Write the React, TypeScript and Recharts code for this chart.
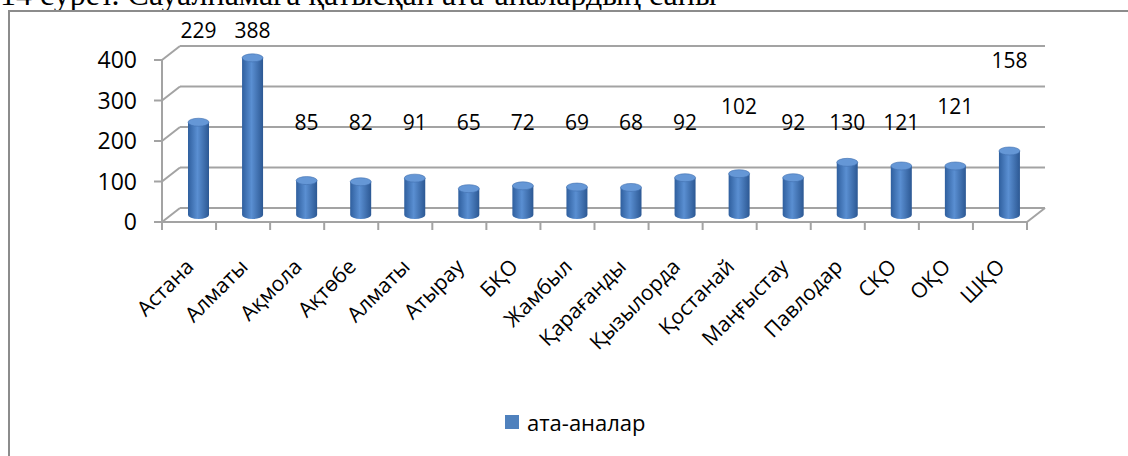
import { BarChart, Bar, XAxis, YAxis, CartesianGrid, LabelList } from 'recharts'

const regions = [
  'Астана', 'Алматы', 'Ақмола', 'Ақтөбе', 'Алматы', 'Атырау', 'БҚО', 'Жамбыл',
  'Қарағанды', 'Қызылорда', 'Қостанай', 'Маңғыстау', 'Павлодар', 'СҚО', 'ОҚО', 'ШҚО',
]
const parents = [229, 388, 85, 82, 91, 65, 72, 69, 68, 92, 102, 92, 130, 121, 121, 158]
const yTicks = [0, 100, 200, 300, 400]
const seriesName = 'ата-аналар'
const caption = '14 сурет. Сауалнамаға қатысқан ата-аналардың саны'

// where Excel dropped each data label, in axis units
const labelLevel = [474, 474, 247, 247, 247, 247, 247, 247, 247, 247, 286, 247, 247, 247, 286, 400]

const data = regions.map((name, i) => ({ name, value: parents[i] }))

const FONT = '"Open Sans", sans-serif'
const GRID = '#a3a3a3'
const DEPTH_X = 18, DEPTH_Y = -14      // back wall offset
const BAR_X = 9, BAR_Y = -7            // cylinders sit mid-depth

function WallLine(props: any) {
  const { x1, y1, x2, y2 } = props
  const floor = props.y != null && props.height != null && Math.abs(y1 - (props.y + props.height)) < 1
  return (
    <g>
      <line x1={x1} y1={y1} x2={x1 + DEPTH_X} y2={y1 + DEPTH_Y} stroke={GRID} strokeWidth={2} />
      <line x1={x1 + DEPTH_X} y1={y1 + DEPTH_Y} x2={x2 + DEPTH_X} y2={y2 + DEPTH_Y} stroke={GRID} strokeWidth={2} />
      {floor && <line x1={x2} y1={y2} x2={x2 + DEPTH_X} y2={y2 + DEPTH_Y} stroke={GRID} strokeWidth={2} />}
    </g>
  )
}

function Cylinder(props: any) {
  const { x, y, width, height } = props
  if (!height) return null
  const left = x + BAR_X
  const top = y + BAR_Y
  const bottom = y + height + BAR_Y
  const rx = width / 2
  const ry = 4
  return (
    <g>
      <path
        d={`M${left},${top} L${left},${bottom} A${rx},${ry} 0 0 0 ${left + width},${bottom} L${left + width},${top} Z`}
        fill="url(#cyl)"
      />
      <ellipse cx={left + rx} cy={top} rx={rx} ry={ry} fill="#6597d6" stroke="#3f6fae" strokeWidth={0.6} />
    </g>
  )
}

function ValueLabel(props: any) {
  const vb = props.viewBox || props
  const { x, y, width, height } = vb
  const { value, index } = props
  if (!value) return null
  const bottom = y + height
  const ly = bottom - labelLevel[index] * (height / value)
  return (
    <text x={x + width / 2 + BAR_X} y={ly} textAnchor="middle" dominantBaseline="central"
      fontFamily={FONT} fontSize={21} fill="#000">
      {value}
    </text>
  )
}

function RegionTick(props: any) {
  const { x, y, payload, index } = props
  const half = payload?.offset || 27
  return (
    <g>
      <line x1={x - half} y1={y} x2={x - half} y2={y + 8} stroke={GRID} strokeWidth={2} />
      {index === regions.length - 1 && (
        <line x1={x + half} y1={y} x2={x + half} y2={y + 8} stroke={GRID} strokeWidth={2} />
      )}
      <text x={x + 6} y={y + 46} textAnchor="end" transform={`rotate(-45, ${x + 6}, ${y + 46})`}
        fontFamily={FONT} fontSize={21} fill="#000">
        {payload.value}
      </text>
    </g>
  )
}

export default function App() {
  return (
    <div style={{ position: 'fixed', left: 0, top: 0, width: 1128, height: 456, overflow: 'hidden', background: '#fff' }}>
      <div style={{
        position: 'absolute', left: 0, top: -22, whiteSpace: 'nowrap',
        fontFamily: '"Liberation Serif", "Times New Roman", serif', fontSize: 32, lineHeight: '32px', color: '#000',
      }}>
        {caption}
      </div>
      <div style={{ position: 'absolute', left: 8, top: 10, width: 1200, height: 500, border: '2px solid #8c8c8c' }} />

      <div style={{ position: 'absolute', left: 0, top: 0 }}>
        <BarChart width={1128} height={456} data={data}
          margin={{ top: 60, right: 101, left: 0, bottom: 114 }}>
          <defs>
            <linearGradient id="cyl" x1="0" y1="0" x2="1" y2="0">
              <stop offset="0" stopColor="#2f5f9e" />
              <stop offset="0.45" stopColor="#5a8fd2" />
              <stop offset="1" stopColor="#2c5893" />
            </linearGradient>
          </defs>
          <CartesianGrid vertical={false} horizontal={(p: any) => <WallLine key={p.key ?? p.index} {...p} />} />
          <XAxis dataKey="name" interval={0} height={120} tickSize={0} tickMargin={0} tickLine={false}
            axisLine={{ stroke: GRID, strokeWidth: 2 }} tick={<RegionTick />} />
          <YAxis domain={[0, 400]} ticks={yTicks} width={162} tickSize={8} tickMargin={17}
            axisLine={{ stroke: GRID, strokeWidth: 2 }} tickLine={{ stroke: GRID, strokeWidth: 2 }}
            tick={{ fill: '#000', fontSize: 23, fontFamily: FONT }} />
          <Bar dataKey="value" name={seriesName} barSize={21} shape={<Cylinder />} isAnimationActive={false}>
            <LabelList dataKey="value" content={<ValueLabel />} />
          </Bar>
        </BarChart>
      </div>

      <div style={{ position: 'absolute', left: 505, top: 408, display: 'flex', alignItems: 'center', height: 28 }}>
        <div style={{ width: 14, height: 14, background: '#4f81bd' }} />
        <span style={{ marginLeft: 8, fontFamily: FONT, fontSize: 22, color: '#000' }}>{seriesName}</span>
      </div>
    </div>
  )
}
